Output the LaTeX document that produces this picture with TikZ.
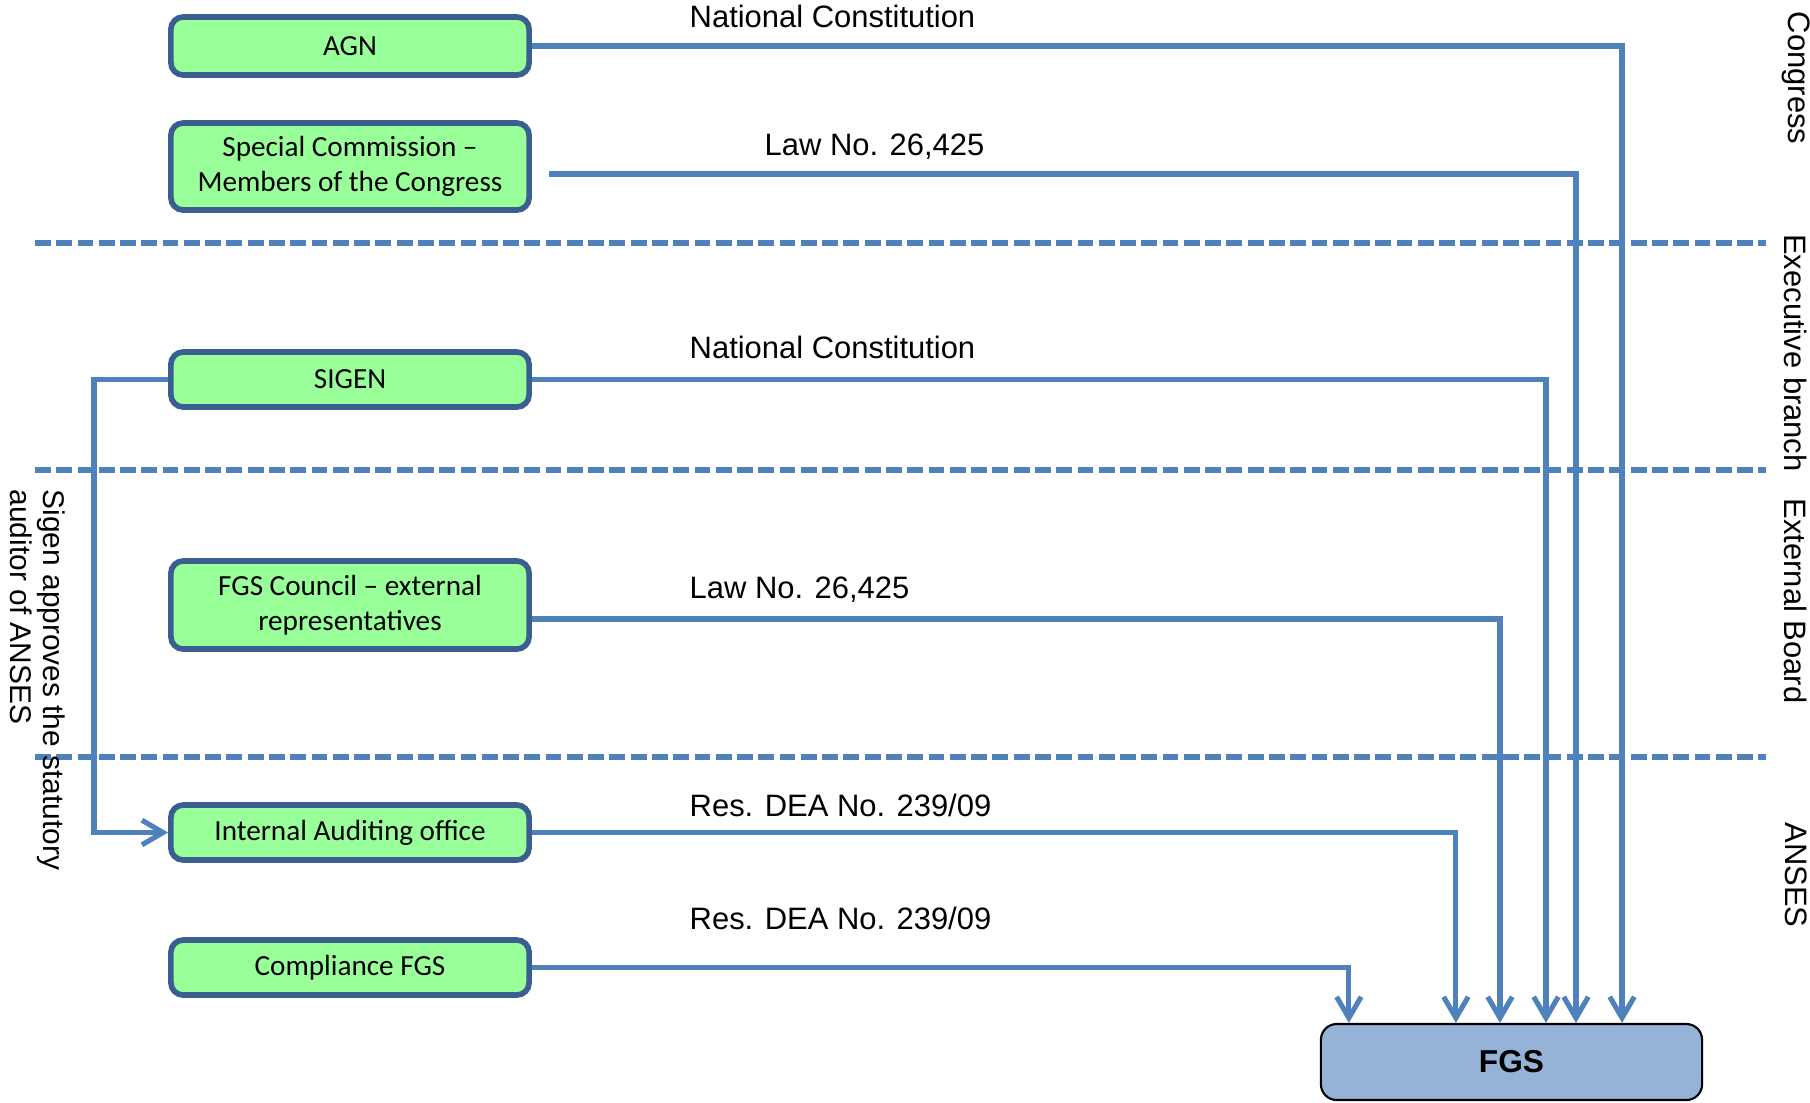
\documentclass[tikz,border=0pt]{standalone}
\usepackage{fontspec}
\setmainfont{Liberation Sans}
\newfontfamily\boxfont{Carlito}
\usetikzlibrary{arrows.meta}
\definecolor{boxgreen}{HTML}{99FF99}
\definecolor{boxborder}{HTML}{3B5E91}
\definecolor{conncol}{HTML}{4F81BD}
\definecolor{fgsfill}{HTML}{95B3D7}
\tikzset{
  orgbox/.style={draw=boxborder, line width=1.6pt, fill=boxgreen, rounded corners=3.5pt,
    minimum width=3.58cm, align=center, inner sep=0pt,
    font=\boxfont\fontsize{8.3}{10}\selectfont},
  fgsbox/.style={draw=black, line width=0.6pt, fill=fgsfill, rounded corners=4.5pt,
    minimum width=3.81cm, minimum height=0.76cm, inner sep=0pt,
    font=\fontsize{9}{11}\selectfont\bfseries},
  conn/.style={draw=conncol, line width=1.45pt},
  arr/.style={conn, -{Straight Barb[length=6pt,width=7pt,line width=1.45pt]}},
  sep/.style={draw=conncol, line width=1.7pt, dash pattern=on 4.5pt off 1.55pt},
  lab/.style={inner sep=0pt, anchor=west, font=\fontsize{8.8}{10}\selectfont},
  side/.style={inner sep=0pt, rotate=-90, font=\fontsize{8.8}{10}\selectfont},
}
\begin{document}
\begin{tikzpicture}[x=0.01cm,y=-0.01cm]
\useasboundingbox (0,0) rectangle (1810,1102);

% separators
\draw[sep] (35,243) -- (1766,243);
\draw[sep] (35,470) -- (1766,470);
\draw[sep] (35,757) -- (1766,757);

% boxes
\node[orgbox, minimum height=0.58cm] (agn) at (350,46) {AGN};
\node[orgbox, minimum height=0.87cm] (sc) at (350,166.5) {Special Commission –\\Members of the Congress};
\node[orgbox, minimum height=0.55cm] (sigen) at (350,379.5) {SIGEN};
\node[orgbox, minimum height=0.88cm] (fgsc) at (350,605) {FGS Council – external\\representatives};
\node[orgbox, minimum height=0.55cm] (ia) at (350,832.5) {Internal Auditing office};
\node[orgbox, minimum height=0.55cm] (comp) at (350,967.5) {Compliance FGS};

\node[fgsbox] (fgs) at (1511.5,1062) {FGS};

% entry points
\coordinate (in1) at ([xshift=0.29cm]fgs.north west);
\coordinate (in2) at ([xshift=1.36cm]fgs.north west);
\coordinate (in3) at ([xshift=1.80cm]fgs.north west);
\coordinate (in4) at ([xshift=2.26cm]fgs.north west);
\coordinate (in5) at ([xshift=2.56cm]fgs.north west);
\coordinate (in6) at ([xshift=3.02cm]fgs.north west);

% connectors
\draw[arr] (agn.east) -| (in6);
\draw[arr, shorten <=0.17cm] (sc.east |- 0,174) -| (in5);
\draw[arr] (sigen.east) -| (in4);
\draw[arr] (fgsc.east |- 0,619) -| (in3);
\draw[arr] (ia.east) -| (in2);
\draw[arr] (comp.east) -| (in1);
\draw[arr] (sigen.west) -- ++(-0.74cm,0) |- (ia.west);

% labels
\node[lab] (l1) at (689,16) {National Constitution};
\node[lab] (l2) at (764,147) {Law No. 26,425};
\node[lab] (l3) at (689,347) {National Constitution};
\node[lab] (l4) at (689,590) {Law No. 26,425};
\node[lab] (l5) at (689,805) {Res. DEA No. 239/09};
\node[lab] (l6) at (689,918) {Res. DEA No. 239/09};

% side labels
\node[side] (s1) at (1796,78) {Congress};
\node[side] (s2) at (1796,353) {Executive branch};
\node[side] (s3) at (1796,601) {External Board};
\node[side] (s4) at (1796,875) {ANSES};

\node[inner sep=0pt, rotate=-90, anchor=north west, align=left,
  font=\fontsize{8.5}{9.5}\selectfont] (note) at (66,489)
  {Sigen approves the statutory\\auditor of ANSES};
\end{tikzpicture}
\end{document}
